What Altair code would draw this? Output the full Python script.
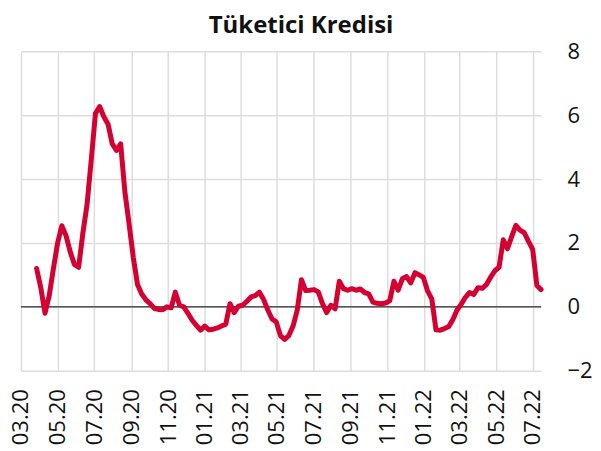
import altair as alt
import pandas as pd

title_text = "Tüketici Kredisi"
start_date = "2020-03-27"
values = [
    1.2, 0.6, -0.2, 0.35, 1.2, 2.0, 2.54, 2.23, 1.72, 1.33,
    1.24, 2.3, 3.2, 4.6, 6.05, 6.27, 5.95, 5.72, 5.1, 4.9,
    5.1, 3.6, 2.6, 1.55, 0.7, 0.4, 0.22, 0.1, -0.05, -0.08,
    -0.09, 0.0, -0.03, 0.46, 0.05, 0.0, -0.2, -0.42, -0.58, -0.73,
    -0.6, -0.72, -0.7, -0.66, -0.6, -0.54, 0.1, -0.18, 0.02, 0.05,
    0.17, 0.31, 0.35, 0.46, 0.23, -0.1, -0.38, -0.47, -0.9, -1.02,
    -0.9, -0.6, -0.1, 0.85, 0.51, 0.52, 0.54, 0.47, 0.1, -0.18,
    0.05, -0.06, 0.8, 0.57, 0.52, 0.57, 0.52, 0.56, 0.45, 0.41,
    0.15, 0.11, 0.1, 0.12, 0.19, 0.8, 0.52, 0.88, 0.95, 0.75,
    1.07, 1.0, 0.92, 0.5, 0.25, -0.72, -0.73, -0.68, -0.62, -0.4,
    -0.1, 0.08, 0.3, 0.45, 0.39, 0.6, 0.58, 0.7, 0.93, 1.13,
    1.24, 2.1, 1.82, 2.2, 2.55, 2.4, 2.32, 2.05, 1.8, 0.67,
    0.54,
]
tick_labels = ["03.20", "05.20", "07.20", "09.20", "11.20", "01.21", "03.21",
               "05.21", "07.21", "09.21", "11.21", "01.22", "03.22", "05.22", "07.22"]
y_ticks = [-2, 0, 2, 4, 6, 8]
x_domain = ["2020-03-01", "2022-07-15"]

dates = pd.date_range(start_date, periods=len(values), freq="7D")
df = pd.DataFrame({"date": dates.strftime("%Y-%m-%d"), "value": values})

tick_dates = [alt.DateTime(year=2000 + int(t[3:]), month=int(t[:2]), date=1) for t in tick_labels]

x_enc = alt.X(
    "date:T",
    scale=alt.Scale(domain=x_domain),
    axis=alt.Axis(
        values=tick_dates, format="%m.%y", labelAngle=270, labelFontSize=22,
        labelFont="Open Sans", labelColor="#111", ticks=False, domain=False,
        grid=True, gridColor="#dddddd", gridWidth=1.5, labelPadding=18, title=None,
    ),
)
y_enc = alt.Y(
    "value:Q",
    scale=alt.Scale(domain=[-2, 8], nice=False),
    axis=alt.Axis(
        values=y_ticks, orient="right", labelFontSize=22, labelFont="Open Sans",
        labelColor="#111", ticks=False, domain=False, grid=True, gridColor="#dddddd",
        gridWidth=1.5, labelPadding=26, title=None,
    ),
)

line = alt.Chart(df).mark_line(color="#d40032", strokeWidth=5, strokeJoin="round", strokeCap="round").encode(
    x=x_enc, y=y_enc
)
zero = alt.Chart(pd.DataFrame({"y": [0]})).mark_rule(color="black", strokeWidth=1).encode(
    y=alt.Y("y:Q", scale=alt.Scale(domain=[-2, 8], nice=False))
)

chart = (
    alt.layer(zero, line)
    .properties(
        width=521, height=320,
        padding={"left": 2, "top": 6, "right": 0, "bottom": 3},
        title=alt.TitleParams(title_text, font="Open Sans", fontSize=24, fontWeight="bold",
                              anchor="middle", frame="bounds", color="#111", offset=2),
    )
    .configure_view(stroke=None)
)
chart.save("out.html", embed_options={"renderer": "svg", "actions": False})
